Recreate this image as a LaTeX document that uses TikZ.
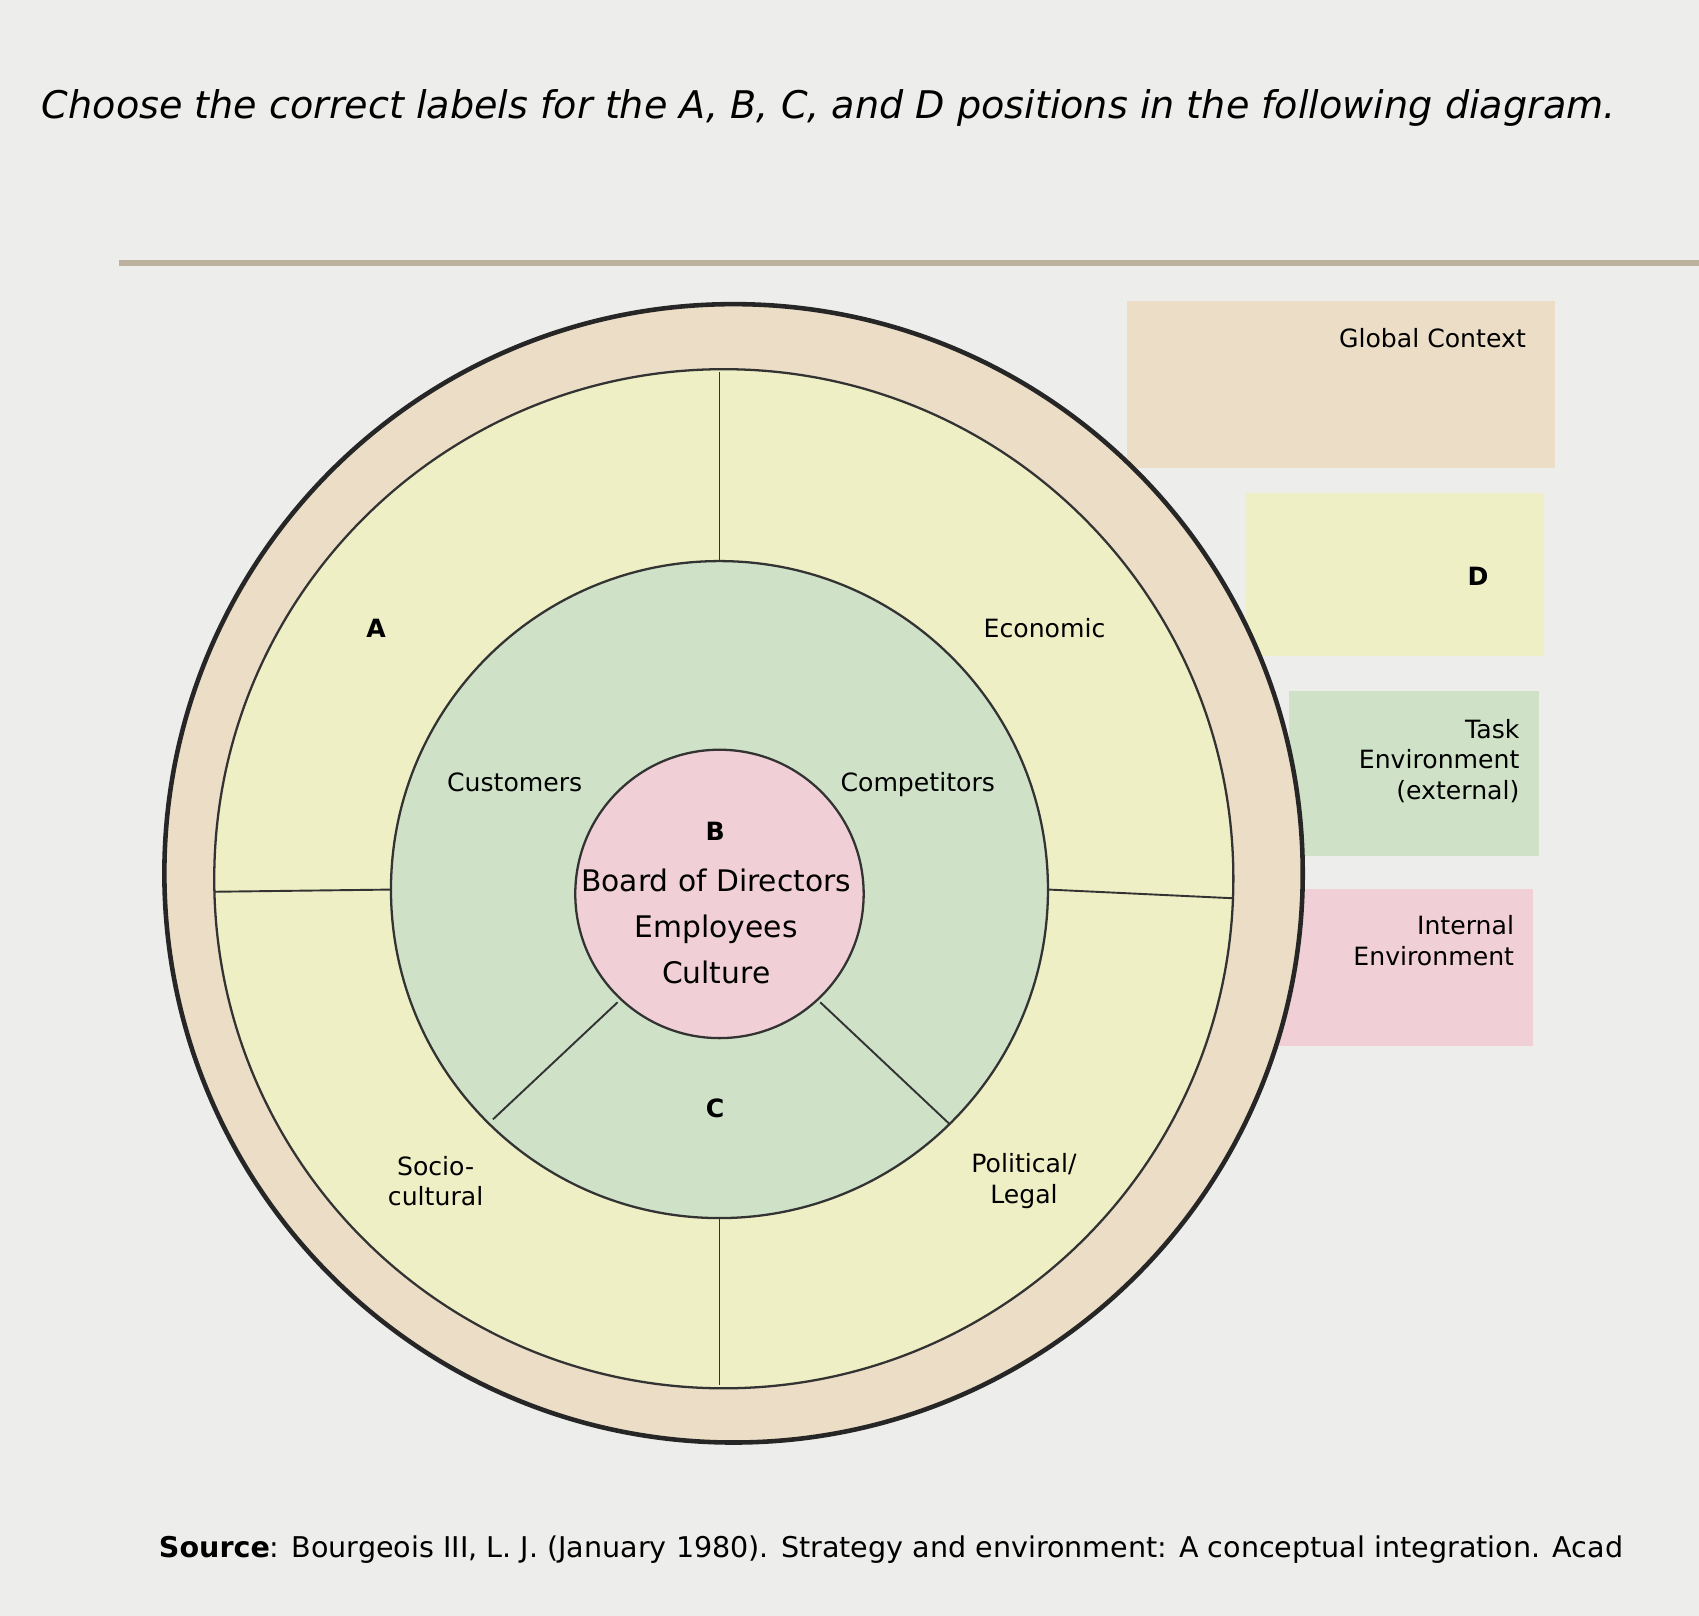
\documentclass[tikz,border=0pt]{standalone}
\usepackage{fontspec}
\setmainfont{DejaVu Sans}
\begin{document}
\begin{tikzpicture}[x=0.01cm,y=-0.01cm,
 lbl/.style={font=\fontsize{6.6}{8}\selectfont,align=center,inner sep=0pt},
 big/.style={font=\fontsize{7.8}{12}\selectfont,align=center,inner sep=0pt},
 sep/.style={draw=black!80,line width=0.5pt}]
\definecolor{bg}{HTML}{EDEDEB}
\definecolor{tan}{HTML}{EBDDC6}
\definecolor{yel}{HTML}{EEEFC4}
\definecolor{grn}{HTML}{CFE2C8}
\definecolor{pnk}{HTML}{F0CFD7}
\fill[bg] (0,0) rectangle (1568,1491);
\useasboundingbox (0,0) rectangle (1568,1491);
\node[anchor=west,inner sep=0pt,font=\fontsize{10}{12}\selectfont\itshape] (title) at (38,100) {Choose the correct labels for the A, B, C, and D positions in the following diagram.};
\draw[tan!80!black,line width=1.5pt] (110,243) -- (1568,243);
\fill[tan] (1040,278) rectangle (1435,432);
\fill[yel] (1150,455) rectangle (1425,605);
\fill[grn] (1190,638) rectangle (1420,790);
\fill[pnk] (1180,820) rectangle (1415,965);
\node[circle,draw=black!85,line width=1.2pt,fill=tan,minimum size=10.5cm,inner sep=0pt] (outer) at (677,806) {};
\node[circle,draw=black!80,line width=0.6pt,fill=yel,minimum size=9.4cm,inner sep=0pt] (ring) at (668,811) {};
\node[circle,draw=black!80,line width=0.6pt,fill=grn,minimum size=6.06cm,inner sep=0pt] (task) at (664,821) {};
\node[circle,draw=black!80,line width=0.6pt,fill=pnk,minimum size=2.66cm,inner sep=0pt] (core) at (664,825) {};
\draw[sep] (664,343) -- (task.north);
\draw[sep] (task.south) -- (664,1278);
\draw[sep] (198,823) -- (task.west);
\draw[sep] (task.east) -- (1138,829);
\draw[sep] (570,925) -- (455,1033);
\draw[sep] (757,925) -- (877,1038);
\node[lbl] (gc) at (1322,312) {Global Context};
\node[lbl,font=\fontsize{6.6}{8}\selectfont\bfseries] (d) at (1364,532) {D};
\node[lbl,align=right,anchor=east] (te) at (1403,702) {Task\\Environment\\(external)};
\node[lbl,align=right,anchor=east] (ie) at (1398,868) {Internal\\Environment};
\node[lbl,font=\fontsize{6.6}{8}\selectfont\bfseries] (a) at (347,580) {A};
\node[lbl] (ec) at (964,580) {Economic};
\node[lbl] (cu) at (475,722) {Customers};
\node[lbl] (co) at (847,724) {Competitors};
\node[lbl,font=\fontsize{6.6}{8}\selectfont\bfseries] (b) at (660,767) {B};
\node[big] (bd) at (661,855) {Board of Directors\\Employees\\Culture};
\node[lbl,font=\fontsize{6.6}{8}\selectfont\bfseries] (c) at (660,1023) {C};
\node[lbl] (sc) at (402,1090) {Socio-\\cultural};
\node[lbl] (pl) at (945,1090) {Political/\\Legal};
\node[anchor=west,inner sep=0pt,font=\fontsize{7.5}{9}\selectfont] (src) at (146,1430) {\textbf{Source}: Bourgeois III, L. J. (January 1980). Strategy and environment: A conceptual integration. Acad};
\end{tikzpicture}
\end{document}
